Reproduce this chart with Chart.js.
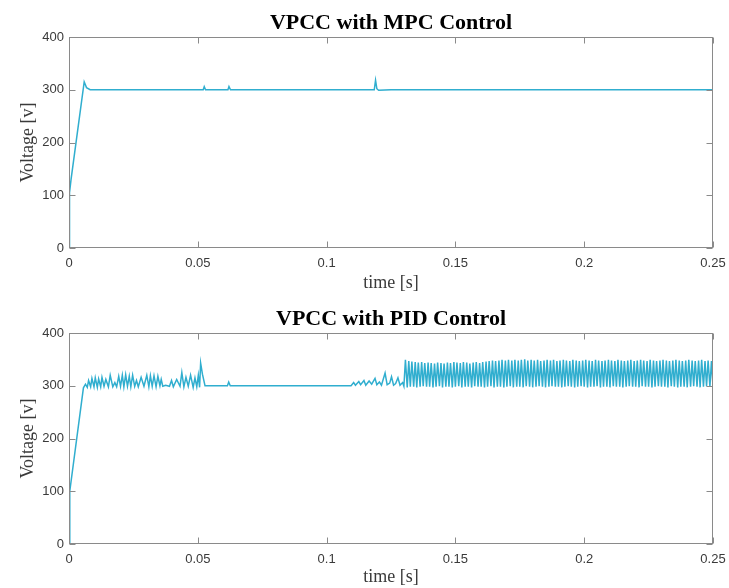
<!DOCTYPE html>
<html>
<head>
<meta charset="utf-8">
<title>VPCC MPC vs PID</title>
<script src="https://cdn.jsdelivr.net/npm/chart.js@4.4.1/dist/chart.umd.min.js"></script>
<style>
  html, body { margin: 0; padding: 0; background: #fff; }
  .panel { position: absolute; left: 0; width: 729px; height: 294px; }
</style>
</head>
<body>
<div class="panel" style="top:0"><canvas id="mpc-chart" width="729" height="294"></canvas></div>
<div class="panel" style="top:294px"><canvas id="pid-chart" width="729" height="294"></canvas></div>
<script>
// axis ticks
const timeTicks = [0, 0.05, 0.1, 0.15, 0.2, 0.25];
const voltTicks = [0, 100, 200, 300, 400];

// VPCC with MPC control
const mpcTime = [0, 0.0002, 0.0008, 0.0059, 0.0068, 0.0082, 0.0170, 0.0521, 0.0525, 0.0530,
  0.0617, 0.0621, 0.0627, 0.1185, 0.1190, 0.1195, 0.1202, 0.1250, 0.25];
const mpcVolt = [0, 105, 130, 315, 304, 300, 300, 300, 306, 300,
  300, 306, 300, 300, 318, 302, 299, 300, 300];

// VPCC with PID control, start-up and ripple up to 0.13 s
const pidTime = [0, 0.0003, 0.0056, 0.0064, 0.0071, 0.0076, 0.0084, 0.0089, 0.0097, 0.0102,
  0.0110, 0.0115, 0.0123, 0.0128, 0.0136, 0.0143, 0.0153, 0.0160, 0.0170, 0.0178,
  0.0185, 0.0193, 0.0200, 0.0207, 0.0213, 0.0220, 0.0227, 0.0234, 0.0240, 0.0247,
  0.0255, 0.0262, 0.0269, 0.0280, 0.0291, 0.0302, 0.0310, 0.0316, 0.0323, 0.0330,
  0.0338, 0.0345, 0.0353, 0.0358, 0.0364, 0.0375, 0.0390, 0.0398, 0.0405, 0.0418,
  0.0431, 0.0438, 0.0446, 0.0454, 0.0463, 0.0472, 0.0482, 0.0489, 0.0496, 0.0502,
  0.0507, 0.0511, 0.0518, 0.0528, 0.0615, 0.0620, 0.0626, 0.1095, 0.1105, 0.1112,
  0.1125, 0.1132, 0.1145, 0.1152, 0.1165, 0.1175, 0.1188, 0.1195, 0.1205, 0.1213,
  0.1227, 0.1235, 0.1245, 0.1252, 0.1260, 0.1268, 0.1277, 0.1285, 0.1295];
const pidVolt = [0, 100, 296, 303, 297, 310, 298, 314, 298, 315,
  297, 313, 298, 316, 299, 312, 298, 320, 298, 306,
  298, 318, 299, 320, 298, 321, 299, 318, 298, 320,
  299, 310, 298, 316, 299, 320, 298, 319, 299, 319,
  298, 318, 300, 312, 299, 301, 299, 310, 298, 312,
  299, 325, 298, 316, 299, 320, 297, 315, 298, 320,
  297, 343, 322, 300, 300, 307, 300, 300, 306, 301,
  308, 302, 310, 301, 309, 303, 314, 302, 307, 301,
  324, 302, 305, 317, 301, 304, 315, 301, 306];

// VPCC with PID control, sustained oscillation from 0.13 s (time in ms)
const pidOscMs = [
  130.0, 130.6, 131.3, 131.9, 132.5, 133.1, 133.8, 134.4, 135.0, 135.6, 136.3, 136.9, 137.5, 138.1, 138.8, 139.4,
  140.0, 140.6, 141.3, 141.9, 142.5, 143.1, 143.8, 144.4, 145.0, 145.6, 146.3, 146.9, 147.5, 148.1, 148.8, 149.4,
  150.0, 150.6, 151.3, 151.9, 152.5, 153.1, 153.8, 154.4, 155.0, 155.6, 156.3, 156.9, 157.5, 158.1, 158.8, 159.4,
  160.0, 160.6, 161.3, 161.9, 162.5, 163.1, 163.8, 164.4, 165.0, 165.6, 166.3, 166.9, 167.5, 168.1, 168.8, 169.4,
  170.0, 170.6, 171.3, 171.9, 172.5, 173.1, 173.8, 174.4, 175.0, 175.6, 176.3, 176.9, 177.5, 178.1, 178.8, 179.4,
  180.0, 180.6, 181.3, 181.9, 182.5, 183.1, 183.8, 184.4, 185.0, 185.6, 186.3, 186.9, 187.5, 188.1, 188.8, 189.4,
  190.0, 190.6, 191.3, 191.9, 192.5, 193.1, 193.8, 194.4, 195.0, 195.6, 196.3, 196.9, 197.5, 198.1, 198.8, 199.4,
  200.0, 200.6, 201.3, 201.9, 202.5, 203.1, 203.8, 204.4, 205.0, 205.6, 206.3, 206.9, 207.5, 208.1, 208.8, 209.4,
  210.0, 210.6, 211.3, 211.9, 212.5, 213.1, 213.8, 214.4, 215.0, 215.6, 216.3, 216.9, 217.5, 218.1, 218.8, 219.4,
  220.0, 220.6, 221.3, 221.9, 222.5, 223.1, 223.8, 224.4, 225.0, 225.6, 226.3, 226.9, 227.5, 228.1, 228.8, 229.4,
  230.0, 230.6, 231.3, 231.9, 232.5, 233.1, 233.8, 234.4, 235.0, 235.6, 236.3, 236.9, 237.5, 238.1, 238.8, 239.4,
  240.0, 240.6, 241.3, 241.9, 242.5, 243.1, 243.8, 244.4, 245.0, 245.6, 246.3, 246.9, 247.5, 248.1, 248.8, 249.4,
  250.0];
const pidOscVolt = [
  299, 349, 297, 347, 298, 346, 298, 345, 297, 344, 298, 345, 299, 343, 298, 344,
  298, 343, 297, 342, 298, 344, 299, 343, 297, 342, 298, 344, 298, 343, 297, 345,
  298, 344, 299, 343, 297, 345, 298, 344, 298, 342, 297, 344, 299, 345, 298, 343,
  298, 345, 297, 346, 298, 347, 299, 348, 297, 347, 298, 348, 298, 349, 297, 348,
  298, 349, 299, 348, 297, 349, 298, 348, 298, 349, 297, 350, 299, 348, 298, 349,
  297, 348, 298, 349, 299, 347, 298, 348, 297, 349, 298, 348, 299, 349, 298, 347,
  298, 348, 297, 349, 298, 348, 299, 347, 298, 349, 297, 348, 298, 347, 299, 348,
  298, 349, 297, 348, 298, 347, 298, 349, 299, 348, 297, 347, 298, 348, 298, 349,
  297, 348, 299, 347, 298, 349, 298, 348, 297, 347, 298, 348, 299, 349, 298, 347,
  298, 348, 297, 349, 299, 348, 298, 347, 298, 349, 297, 348, 298, 347, 299, 348,
  298, 349, 298, 348, 297, 347, 299, 348, 298, 349, 297, 348, 298, 347, 298, 348,
  297, 349, 298, 348, 299, 347, 298, 348, 297, 349, 298, 347, 299, 348, 298, 347,
  298];

const lineColor = "#30aecf";
const axisColor = "#8a8a8a";
const labelColor = "#3a3a3a";

// MATLAB style box, inward ticks and title
const matlabAxes = {
  id: "matlabAxes",
  afterDraw: function (chart, args, opts) {
    const ctx = chart.ctx;
    const a = chart.chartArea;
    const x = chart.scales.x;
    const y = chart.scales.y;
    const L = Math.round(a.left) + 0.5, R = Math.round(a.right) - 0.5;
    const T = Math.round(a.top) + 0.5, B = Math.round(a.bottom) - 0.5;
    ctx.save();
    ctx.strokeStyle = axisColor;
    ctx.lineWidth = 1;
    ctx.strokeRect(L, T, R - L, B - T);
    ctx.beginPath();
    timeTicks.forEach(function (v) {
      const px = Math.round(x.getPixelForValue(v)) + 0.5;
      ctx.moveTo(px, B); ctx.lineTo(px, B - 6);
      ctx.moveTo(px, T); ctx.lineTo(px, T + 6);
    });
    voltTicks.forEach(function (v) {
      const py = Math.round(y.getPixelForValue(v)) + 0.5;
      ctx.moveTo(L, py); ctx.lineTo(L + 6, py);
      ctx.moveTo(R, py); ctx.lineTo(R - 6, py);
    });
    ctx.stroke();
    ctx.fillStyle = "#000";
    ctx.font = "bold 22px 'Liberation Serif', 'Times New Roman', serif";
    ctx.textAlign = "center";
    ctx.textBaseline = "middle";
    ctx.fillText(opts.text, (a.left + a.right) / 2, opts.y);
    ctx.restore();
  }
};

function makeChart(id, points, title, titleY, topPad, xHeight, xTitlePad) {
  return new Chart(document.getElementById(id), {
    type: "scatter",
    data: {
      datasets: [{
        data: points,
        showLine: true,
        borderColor: lineColor,
        borderWidth: 1.5,
        pointRadius: 0,
        tension: 0
      }]
    },
    options: {
      responsive: false,
      animation: false,
      layout: { padding: { top: topPad, left: 0, right: 16, bottom: 0 } },
      plugins: {
        legend: { display: false },
        tooltip: { enabled: false },
        matlabAxes: { text: title, y: titleY }
      },
      scales: {
        x: {
          type: "linear",
          min: 0,
          max: 0.25,
          afterFit: function (s) { s.height = xHeight; s.paddingLeft = 0; s.paddingRight = 0; },
          afterBuildTicks: function (s) { s.ticks = timeTicks.map(function (v) { return { value: v }; }); },
          grid: { display: false, drawTicks: false },
          border: { display: false },
          ticks: {
            padding: 8,
            color: labelColor,
            font: { family: "'Liberation Sans', Arial, sans-serif", size: 13 },
            callback: function (v) { return String(Number(v.toFixed(2))); }
          },
          title: {
            display: true,
            text: "time [s]",
            color: labelColor,
            padding: { top: 0, bottom: xTitlePad },
            font: { family: "'Liberation Serif', 'Times New Roman', serif", size: 18 }
          }
        },
        y: {
          min: 0,
          max: 400,
          afterFit: function (s) { s.width = 69; s.paddingTop = 0; s.paddingBottom = 0; },
          afterBuildTicks: function (s) { s.ticks = voltTicks.map(function (v) { return { value: v }; }); },
          grid: { display: false, drawTicks: false },
          border: { display: false },
          ticks: {
            padding: 5,
            color: labelColor,
            font: { family: "'Liberation Sans', Arial, sans-serif", size: 13 }
          },
          title: {
            display: true,
            text: "Voltage [v]",
            color: labelColor,
            padding: { top: 17, bottom: 0 },
            font: { family: "'Liberation Serif', 'Times New Roman', serif", size: 18 }
          }
        }
      }
    },
    plugins: [matlabAxes]
  });
}

const mpcPoints = mpcTime.map(function (t, i) { return { x: t, y: mpcVolt[i] }; });
const pidPoints = pidTime.map(function (t, i) { return { x: t, y: pidVolt[i] }; })
  .concat(pidOscMs.map(function (ms, i) { return { x: ms / 1000, y: pidOscVolt[i] }; }));

makeChart("mpc-chart", mpcPoints, "VPCC with MPC Control", 23, 37, 46, 0);
makeChart("pid-chart", pidPoints, "VPCC with PID Control", 25, 39, 44, 0);
</script>
</body>
</html>
